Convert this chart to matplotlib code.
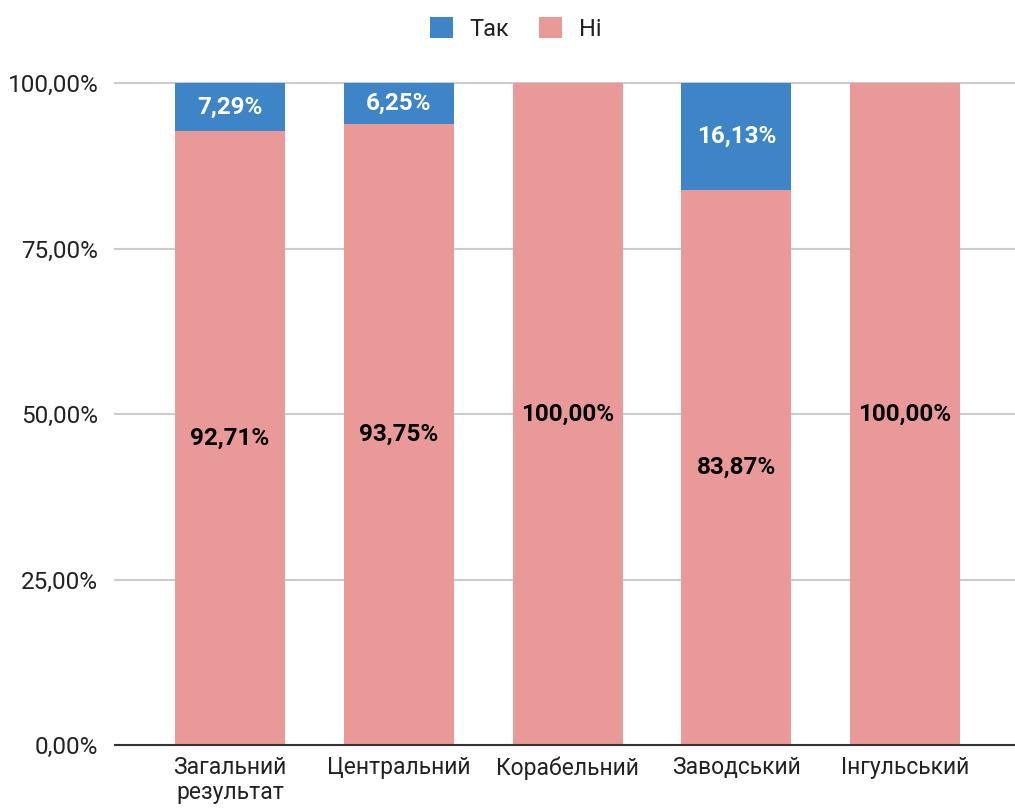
import matplotlib.pyplot as plt
from matplotlib.ticker import FuncFormatter

plt.rcParams["font.family"] = ["Roboto", "DejaVu Sans"]

categories = ["Загальний\nрезультат", "Центральний", "Корабельний", "Заводський", "Інгульський"]
tak = [7.29, 6.25, 0.0, 16.13, 0.0]
ni = [92.71, 93.75, 100.0, 83.87, 100.0]

BLUE = "#3d85c6"
PINK = "#ea9999"


def pct(v):
    return ("%.2f%%" % v).replace(".", ",")


fig = plt.figure(figsize=(10.15, 8.08), dpi=100)
ax = fig.add_axes([115 / 1015, 1 - 745 / 808, 900 / 1015, (745 - 83) / 808])

x = list(range(len(categories)))
width = 0.652
ax.bar(x, ni, width, color=PINK, label="Ні", zorder=3)
ax.bar(x, tak, width, bottom=ni, color=BLUE, label="Так", zorder=3)

for i in x:
    ax.text(i, ni[i] / 2, pct(ni[i]), ha="center", va="center",
            fontsize=17.5, fontweight="bold", color="black", zorder=4)
    if tak[i] > 0:
        ax.text(i, ni[i] + tak[i] / 2, pct(tak[i]), ha="center", va="center",
                fontsize=17.5, fontweight="bold", color="white", zorder=4)

ax.set_xlim(-0.682, 4.652)
ax.set_ylim(0, 100)
ax.set_yticks([0, 25, 50, 75, 100])
ax.yaxis.set_major_formatter(FuncFormatter(lambda v, p: pct(v)))
ax.set_xticks(x)
ax.set_xticklabels(categories, linespacing=1.1)
ax.tick_params(axis="both", length=0, colors="#222222")
ax.tick_params(axis="y", pad=12, labelsize=17.5)
ax.tick_params(axis="x", pad=8, labelsize=16.5)
ax.grid(axis="y", color="#cccccc", linewidth=1.5, zorder=0, clip_on=False)
for s in ["top", "right", "left"]:
    ax.spines[s].set_visible(False)
ax.spines["bottom"].set_color("#333333")
ax.spines["bottom"].set_linewidth(1.5)
ax.spines["bottom"].set_zorder(5)

handles, labels = ax.get_legend_handles_labels()
fig.legend(handles[::-1], labels[::-1], loc="upper center", bbox_to_anchor=(0.508, 1.005),
           ncol=2, frameon=False, fontsize=17, handlelength=0.97, handleheight=0.97,
           columnspacing=1.25, handletextpad=0.72, labelcolor="#222222")

fig.savefig("out.png", dpi=100)
